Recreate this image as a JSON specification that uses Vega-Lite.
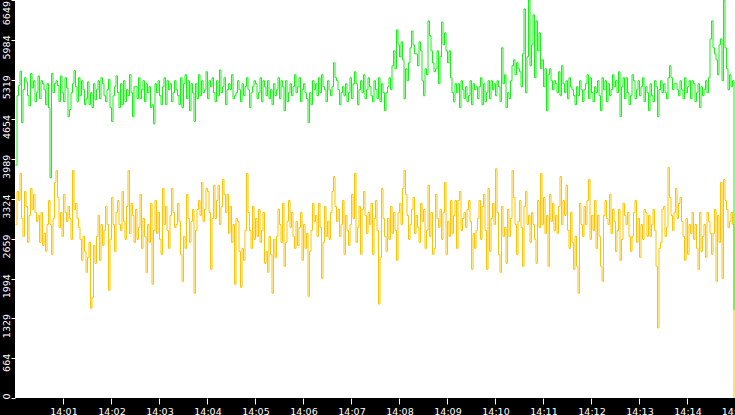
{
  "$schema": "https://vega.github.io/schema/vega-lite/v6.json",
  "width": 720,
  "height": 398,
  "autosize": {"type": "none"},
  "padding": {"left": 15, "top": 0, "right": 0, "bottom": 17},
  "background": "#000000",
  "view": {"fill": "#ffffff", "stroke": null},
  "data": {
    "values": [
      {"t":0,"g":3890,"y":2900},{"t":1,"g":5050,"y":3450},{"t":2,"g":5220,"y":3300},{"t":3,"g":5460,"y":3750},{"t":4,"g":4600,"y":3000},{"t":5,"g":5150,"y":2700},{"t":6,"g":5350,"y":3450},{"t":7,"g":5280,"y":3200},{"t":8,"g":5050,"y":2600},{"t":9,"g":4880,"y":3050},
      {"t":10,"g":5420,"y":3500},{"t":11,"g":5180,"y":3150},{"t":12,"g":5300,"y":3400},{"t":13,"g":4950,"y":3100},{"t":14,"g":5100,"y":2950},{"t":15,"g":5380,"y":3050},{"t":16,"g":5000,"y":2600},{"t":17,"g":5300,"y":3100},{"t":18,"g":5250,"y":2550},{"t":19,"g":5150,"y":2750},
      {"t":20,"g":4900,"y":2450},{"t":21,"g":5250,"y":2900},{"t":22,"g":4850,"y":3300},{"t":23,"g":3680,"y":2900},{"t":24,"g":5420,"y":2400},{"t":25,"g":5100,"y":3000},{"t":26,"g":5250,"y":3600},{"t":27,"g":5300,"y":3800},{"t":28,"g":5220,"y":3350},{"t":29,"g":4950,"y":2850},
      {"t":30,"g":5380,"y":3100},{"t":31,"g":5100,"y":2700},{"t":32,"g":4950,"y":3400},{"t":33,"g":5350,"y":3100},{"t":34,"g":5180,"y":2950},{"t":35,"g":4700,"y":3200},{"t":36,"g":4820,"y":3000},{"t":37,"g":5100,"y":2650},{"t":38,"g":5250,"y":3800},{"t":39,"g":5470,"y":3150},
      {"t":40,"g":5200,"y":3250},{"t":41,"g":4950,"y":3000},{"t":42,"g":5350,"y":2850},{"t":43,"g":5050,"y":2650},{"t":44,"g":5300,"y":2300},{"t":45,"g":5150,"y":2700},{"t":46,"g":4900,"y":2450},{"t":47,"g":5000,"y":2100},{"t":48,"g":5280,"y":2350},{"t":49,"g":4900,"y":2600},
      {"t":50,"g":5100,"y":1500},{"t":51,"g":4850,"y":1680},{"t":52,"g":5250,"y":2550},{"t":53,"g":4980,"y":2250},{"t":54,"g":5150,"y":2700},{"t":55,"g":5300,"y":3050},{"t":56,"g":5000,"y":2300},{"t":57,"g":5350,"y":2900},{"t":58,"g":5250,"y":2550},{"t":59,"g":5050,"y":2800},
      {"t":60,"g":4950,"y":3200},{"t":61,"g":5150,"y":2900},{"t":62,"g":5320,"y":1800},{"t":63,"g":4850,"y":2650},{"t":64,"g":4620,"y":3350},{"t":65,"g":5050,"y":2900},{"t":66,"g":5200,"y":2450},{"t":67,"g":5380,"y":3100},{"t":68,"g":5100,"y":3300},{"t":69,"g":4850,"y":2900},
      {"t":70,"g":5250,"y":2800},{"t":71,"g":4900,"y":3450},{"t":72,"g":5300,"y":2950},{"t":73,"g":4950,"y":2650},{"t":74,"g":5150,"y":3200},{"t":75,"g":5050,"y":3800},{"t":76,"g":5400,"y":2750},{"t":77,"g":5100,"y":3250},{"t":78,"g":4700,"y":3050},{"t":79,"g":5200,"y":2600},
      {"t":80,"g":5200,"y":3150},{"t":81,"g":5000,"y":2650},{"t":82,"g":5350,"y":2850},{"t":83,"g":5000,"y":3400},{"t":84,"g":5150,"y":2500},{"t":85,"g":5300,"y":3000},{"t":86,"g":4950,"y":2700},{"t":87,"g":5250,"y":2100},{"t":88,"g":5100,"y":2900},{"t":89,"g":5200,"y":2600},
      {"t":90,"g":4850,"y":3250},{"t":91,"g":4900,"y":1900},{"t":92,"g":4580,"y":2800},{"t":93,"g":5250,"y":3300},{"t":94,"g":5100,"y":2750},{"t":95,"g":5300,"y":3100},{"t":96,"g":5050,"y":2650},{"t":97,"g":4900,"y":2400},{"t":98,"g":5200,"y":3500},{"t":99,"g":5350,"y":2900},
      {"t":100,"g":4900,"y":3200},{"t":101,"g":5300,"y":2800},{"t":102,"g":5150,"y":2500},{"t":103,"g":5250,"y":3050},{"t":104,"g":4950,"y":3500},{"t":105,"g":5100,"y":3100},{"t":106,"g":5300,"y":2850},{"t":107,"g":5150,"y":2900},{"t":108,"g":5050,"y":3250},{"t":109,"g":4900,"y":2950},
      {"t":110,"g":5350,"y":2400},{"t":111,"g":4850,"y":1950},{"t":112,"g":5250,"y":2700},{"t":113,"g":5400,"y":2500},{"t":114,"g":5000,"y":3400},{"t":115,"g":5300,"y":3000},{"t":116,"g":4800,"y":2600},{"t":117,"g":5250,"y":2950},{"t":118,"g":5100,"y":3150},{"t":119,"g":4620,"y":1750},
      {"t":120,"g":5250,"y":2800},{"t":121,"g":5000,"y":3150},{"t":122,"g":5400,"y":3300},{"t":123,"g":5050,"y":3050},{"t":124,"g":5300,"y":3600},{"t":125,"g":5100,"y":2950},{"t":126,"g":5150,"y":3150},{"t":127,"g":5450,"y":3500},{"t":128,"g":5000,"y":3450},{"t":129,"g":5300,"y":3100},
      {"t":130,"g":5200,"y":2150},{"t":131,"g":5350,"y":3000},{"t":132,"g":5100,"y":3550},{"t":133,"g":4950,"y":3000},{"t":134,"g":5300,"y":3300},{"t":135,"g":5050,"y":3550},{"t":136,"g":5480,"y":2900},{"t":137,"g":5100,"y":3200},{"t":138,"g":5200,"y":3650},{"t":139,"g":5350,"y":3400},
      {"t":140,"g":4900,"y":3100},{"t":141,"g":5150,"y":3400},{"t":142,"g":5250,"y":2750},{"t":143,"g":5150,"y":3200},{"t":144,"g":5400,"y":2600},{"t":145,"g":5000,"y":2900},{"t":146,"g":5050,"y":1900},{"t":147,"g":5100,"y":3000},{"t":148,"g":5300,"y":2950},{"t":149,"g":5150,"y":2450},
      {"t":150,"g":4950,"y":1850},{"t":151,"g":5250,"y":2500},{"t":152,"g":5050,"y":2300},{"t":153,"g":5200,"y":2800},{"t":154,"g":5350,"y":3750},{"t":155,"g":5150,"y":3100},{"t":156,"g":4850,"y":2800},{"t":157,"g":5100,"y":2500},{"t":158,"g":5200,"y":3200},{"t":159,"g":5300,"y":2650},
      {"t":160,"g":5250,"y":3000},{"t":161,"g":5000,"y":2700},{"t":162,"g":5100,"y":3150},{"t":163,"g":5350,"y":2600},{"t":164,"g":4950,"y":2800},{"t":165,"g":5300,"y":3100},{"t":166,"g":5200,"y":2250},{"t":167,"g":5050,"y":2450},{"t":168,"g":5300,"y":2100},{"t":169,"g":5000,"y":2700},
      {"t":170,"g":5150,"y":2400},{"t":171,"g":4900,"y":1750},{"t":172,"g":5250,"y":2650},{"t":173,"g":5050,"y":2350},{"t":174,"g":5150,"y":2700},{"t":175,"g":5350,"y":3150},{"t":176,"g":5000,"y":2900},{"t":177,"g":5300,"y":2600},{"t":178,"g":5200,"y":3250},{"t":179,"g":4800,"y":2200},
      {"t":180,"g":5300,"y":2600},{"t":181,"g":4950,"y":2950},{"t":182,"g":5100,"y":3300},{"t":183,"g":5250,"y":2850},{"t":184,"g":5050,"y":3100},{"t":185,"g":5200,"y":2700},{"t":186,"g":5400,"y":2500},{"t":187,"g":5100,"y":2950},{"t":188,"g":5200,"y":2550},{"t":189,"g":5350,"y":2850},
      {"t":190,"g":4950,"y":3100},{"t":191,"g":5150,"y":2300},{"t":192,"g":5250,"y":2900},{"t":193,"g":5100,"y":2500},{"t":194,"g":5000,"y":2750},{"t":195,"g":4600,"y":1700},{"t":196,"g":5100,"y":2450},{"t":197,"g":4900,"y":2800},{"t":198,"g":5300,"y":3250},{"t":199,"g":5150,"y":2950},
      {"t":200,"g":5250,"y":3050},{"t":201,"g":5050,"y":2700},{"t":202,"g":5350,"y":3250},{"t":203,"g":5100,"y":2850},{"t":204,"g":5400,"y":2000},{"t":205,"g":5200,"y":2600},{"t":206,"g":5150,"y":3200},{"t":207,"g":4950,"y":2700},{"t":208,"g":5300,"y":2950},{"t":209,"g":5150,"y":2650},
      {"t":210,"g":5050,"y":3100},{"t":211,"g":5200,"y":3450},{"t":212,"g":5600,"y":3700},{"t":213,"g":5350,"y":3200},{"t":214,"g":5300,"y":2950},{"t":215,"g":5150,"y":3150},{"t":216,"g":4900,"y":2700},{"t":217,"g":5100,"y":2900},{"t":218,"g":5200,"y":3300},{"t":219,"g":5050,"y":2400},
      {"t":220,"g":5250,"y":3050},{"t":221,"g":4950,"y":2800},{"t":222,"g":5100,"y":2550},{"t":223,"g":5350,"y":2900},{"t":224,"g":5000,"y":3400},{"t":225,"g":5250,"y":3000},{"t":226,"g":5450,"y":3750},{"t":227,"g":5250,"y":2600},{"t":228,"g":4900,"y":2850},{"t":229,"g":5150,"y":3200},
      {"t":230,"g":5300,"y":2400},{"t":231,"g":5100,"y":3150},{"t":232,"g":5400,"y":3450},{"t":233,"g":5000,"y":3050},{"t":234,"g":5150,"y":2750},{"t":235,"g":5350,"y":3100},{"t":236,"g":5200,"y":2900},{"t":237,"g":5050,"y":3250},{"t":238,"g":4950,"y":2400},{"t":239,"g":5300,"y":3000},
      {"t":240,"g":5150,"y":3300},{"t":241,"g":5000,"y":2800},{"t":242,"g":5350,"y":1570},{"t":243,"g":4950,"y":2350},{"t":244,"g":5250,"y":3500},{"t":245,"g":5100,"y":3000},{"t":246,"g":4800,"y":2700},{"t":247,"g":5100,"y":2450},{"t":248,"g":5200,"y":3000},{"t":249,"g":5350,"y":2650},
      {"t":250,"g":5150,"y":3200},{"t":251,"g":5550,"y":2750},{"t":252,"g":5800,"y":3100},{"t":253,"g":5500,"y":2800},{"t":254,"g":6150,"y":2300},{"t":255,"g":5900,"y":3100},{"t":256,"g":5700,"y":3250},{"t":257,"g":5950,"y":2900},{"t":258,"g":5650,"y":3500},{"t":259,"g":5000,"y":3800},
      {"t":260,"g":5500,"y":3400},{"t":261,"g":5300,"y":3050},{"t":262,"g":5600,"y":2650},{"t":263,"g":5850,"y":2900},{"t":264,"g":6130,"y":3150},{"t":265,"g":5900,"y":3350},{"t":266,"g":5750,"y":2750},{"t":267,"g":5750,"y":3050},{"t":268,"g":5550,"y":2850},{"t":269,"g":5950,"y":2600},
      {"t":270,"g":5800,"y":3250},{"t":271,"g":5300,"y":2950},{"t":272,"g":5050,"y":3150},{"t":273,"g":5500,"y":2500},{"t":274,"g":5400,"y":2800},{"t":275,"g":6300,"y":3550},{"t":276,"g":6050,"y":2700},{"t":277,"g":5800,"y":3100},{"t":278,"g":5600,"y":2400},{"t":279,"g":5450,"y":2500},
      {"t":280,"g":5500,"y":3400},{"t":281,"g":5800,"y":3000},{"t":282,"g":5250,"y":2850},{"t":283,"g":5700,"y":3150},{"t":284,"g":6280,"y":2650},{"t":285,"g":5900,"y":3100},{"t":286,"g":6100,"y":3600},{"t":287,"g":5800,"y":2400},{"t":288,"g":5600,"y":2950},{"t":289,"g":5800,"y":2700},
      {"t":290,"g":5350,"y":3300},{"t":291,"g":5100,"y":2750},{"t":292,"g":4950,"y":3050},{"t":293,"g":5250,"y":3300},{"t":294,"g":5100,"y":2500},{"t":295,"g":5250,"y":3300},{"t":296,"g":4850,"y":3450},{"t":297,"g":5300,"y":2800},{"t":298,"g":5150,"y":3000},{"t":299,"g":5000,"y":3100},
      {"t":300,"g":5200,"y":2850},{"t":301,"g":4950,"y":3150},{"t":302,"g":5050,"y":3300},{"t":303,"g":5300,"y":2950},{"t":304,"g":4900,"y":2150},{"t":305,"g":5250,"y":2750},{"t":306,"g":5150,"y":2500},{"t":307,"g":5200,"y":2800},{"t":308,"g":5000,"y":3000},{"t":309,"g":5200,"y":3300},
      {"t":310,"g":5350,"y":2650},{"t":311,"g":4900,"y":3200},{"t":312,"g":5250,"y":3400},{"t":313,"g":4950,"y":2800},{"t":314,"g":5100,"y":2150},{"t":315,"g":5300,"y":3500},{"t":316,"g":5000,"y":2450},{"t":317,"g":5300,"y":3000},{"t":318,"g":5150,"y":3250},{"t":319,"g":5250,"y":2900},
      {"t":320,"g":5050,"y":3830},{"t":321,"g":5300,"y":3100},{"t":322,"g":5200,"y":2400},{"t":323,"g":4950,"y":2100},{"t":324,"g":5850,"y":3200},{"t":325,"g":5250,"y":2700},{"t":326,"g":5400,"y":2850},{"t":327,"g":4850,"y":2250},{"t":328,"g":5100,"y":3150},{"t":329,"g":5000,"y":2700},
      {"t":330,"g":5300,"y":3000},{"t":331,"g":5550,"y":3800},{"t":332,"g":5650,"y":3350},{"t":333,"g":5400,"y":2900},{"t":334,"g":5600,"y":2400},{"t":335,"g":5500,"y":2950},{"t":336,"g":5450,"y":3300},{"t":337,"g":5200,"y":2850},{"t":338,"g":5750,"y":2200},{"t":339,"g":6500,"y":3200},
      {"t":340,"g":5100,"y":3450},{"t":341,"g":5700,"y":2900},{"t":342,"g":6649,"y":3050},{"t":343,"g":5550,"y":2600},{"t":344,"g":5900,"y":3100},{"t":345,"g":6400,"y":2900},{"t":346,"g":5350,"y":2650},{"t":347,"g":6300,"y":2250},{"t":348,"g":5800,"y":3300},{"t":349,"g":6100,"y":2850},
      {"t":350,"g":5500,"y":3750},{"t":351,"g":5650,"y":2900},{"t":352,"g":5200,"y":3350},{"t":353,"g":5500,"y":2750},{"t":354,"g":4800,"y":3050},{"t":355,"g":5400,"y":2200},{"t":356,"g":5500,"y":3400},{"t":357,"g":5300,"y":2950},{"t":358,"g":5150,"y":3250},{"t":359,"g":5300,"y":2800},
      {"t":360,"g":5250,"y":3050},{"t":361,"g":5100,"y":2750},{"t":362,"g":5450,"y":3200},{"t":363,"g":5050,"y":3700},{"t":364,"g":5550,"y":2900},{"t":365,"g":5250,"y":3300},{"t":366,"g":5100,"y":3050},{"t":367,"g":5300,"y":3550},{"t":368,"g":5000,"y":2800},{"t":369,"g":5350,"y":2500},
      {"t":370,"g":5200,"y":3100},{"t":371,"g":5150,"y":2600},{"t":372,"g":5050,"y":2150},{"t":373,"g":4900,"y":2700},{"t":374,"g":5200,"y":2200},{"t":375,"g":5050,"y":1750},{"t":376,"g":5300,"y":3250},{"t":377,"g":5150,"y":2900},{"t":378,"g":4950,"y":2700},{"t":379,"g":5150,"y":3200},
      {"t":380,"g":5250,"y":2900},{"t":381,"g":5400,"y":3300},{"t":382,"g":5000,"y":3650},{"t":383,"g":5350,"y":2650},{"t":384,"g":5100,"y":3050},{"t":385,"g":4950,"y":2800},{"t":386,"g":5200,"y":3300},{"t":387,"g":5100,"y":2500},{"t":388,"g":5300,"y":3050},{"t":389,"g":5050,"y":2700},
      {"t":390,"g":4800,"y":2200},{"t":391,"g":5350,"y":1950},{"t":392,"g":5150,"y":3050},{"t":393,"g":5300,"y":3300},{"t":394,"g":4950,"y":3000},{"t":395,"g":5250,"y":2900},{"t":396,"g":5050,"y":3400},{"t":397,"g":5150,"y":2750},{"t":398,"g":5400,"y":3150},{"t":399,"g":5200,"y":2950},
      {"t":400,"g":5300,"y":2450},{"t":401,"g":5100,"y":2800},{"t":402,"g":5450,"y":3150},{"t":403,"g":4700,"y":2300},{"t":404,"g":5200,"y":2650},{"t":405,"g":5350,"y":3250},{"t":406,"g":5000,"y":3050},{"t":407,"g":5350,"y":2900},{"t":408,"g":5100,"y":3100},{"t":409,"g":4900,"y":2700},
      {"t":410,"g":5050,"y":2450},{"t":411,"g":5400,"y":2700},{"t":412,"g":5300,"y":3100},{"t":413,"g":5000,"y":3300},{"t":414,"g":5150,"y":2600},{"t":415,"g":5300,"y":3000},{"t":416,"g":5050,"y":2350},{"t":417,"g":5200,"y":2900},{"t":418,"g":5350,"y":2650},{"t":419,"g":4950,"y":3150},
      {"t":420,"g":5200,"y":3100},{"t":421,"g":5100,"y":2700},{"t":422,"g":4800,"y":3050},{"t":423,"g":5250,"y":2700},{"t":424,"g":5050,"y":2900},{"t":425,"g":4950,"y":3150},{"t":426,"g":5300,"y":2800},{"t":427,"g":5200,"y":2200},{"t":428,"g":4700,"y":1170},{"t":429,"g":5150,"y":2500},
      {"t":430,"g":5300,"y":2600},{"t":431,"g":5100,"y":3150},{"t":432,"g":5250,"y":3200},{"t":433,"g":5100,"y":2700},{"t":434,"g":5000,"y":2850},{"t":435,"g":5350,"y":3850},{"t":436,"g":5550,"y":3350},{"t":437,"g":5350,"y":3050},{"t":438,"g":5150,"y":2800},{"t":439,"g":5250,"y":3100},
      {"t":440,"g":5250,"y":3500},{"t":441,"g":5150,"y":3000},{"t":442,"g":5050,"y":3250},{"t":443,"g":5300,"y":3350},{"t":444,"g":5150,"y":2950},{"t":445,"g":5000,"y":2700},{"t":446,"g":5350,"y":2300},{"t":447,"g":5100,"y":3000},{"t":448,"g":5200,"y":2400},{"t":449,"g":5300,"y":2900},
      {"t":450,"g":5000,"y":2750},{"t":451,"g":5300,"y":3100},{"t":452,"g":5250,"y":2650},{"t":453,"g":4950,"y":2900},{"t":454,"g":5100,"y":2500},{"t":455,"g":5250,"y":2150},{"t":456,"g":4850,"y":3100},{"t":457,"g":5200,"y":2450},{"t":458,"g":5050,"y":2700},{"t":459,"g":5150,"y":2900},
      {"t":460,"g":5300,"y":2350},{"t":461,"g":5100,"y":3100},{"t":462,"g":5350,"y":2950},{"t":463,"g":6000,"y":2750},{"t":464,"g":6300,"y":2400},{"t":465,"g":5850,"y":2750},{"t":466,"g":5750,"y":3150},{"t":467,"g":5650,"y":1950},{"t":468,"g":5400,"y":3050},{"t":469,"g":5900,"y":2600},
      {"t":470,"g":6000,"y":3600},{"t":471,"g":5300,"y":2000},{"t":472,"g":6649,"y":3650},{"t":473,"g":5850,"y":3300},{"t":474,"g":5500,"y":3150},{"t":475,"g":5150,"y":2850},{"t":476,"g":5400,"y":2950},{"t":477,"g":5200,"y":3100},{"t":478,"g":5300,"y":2900},{"t":479,"g":1470,"y":0}
    ]
  },
  "encoding": {
    "x": {
      "field": "t",
      "type": "quantitative",
      "scale": {"domain": [-0.3333, 479.6667], "nice": false, "zero": false},
      "axis": {
        "values": [32, 64, 96, 128, 160, 192, 224, 256, 288, 320, 352, 384, 416, 448, 479.6],
        "labelExpr": "datum.value < 320 ? '14:0' + round(datum.value / 32) : '14:' + round(datum.value / 32)",
        "title": null,
        "domain": false,
        "grid": false,
        "tickColor": "#ffffff",
        "tickSize": 6,
        "tickWidth": 1,
        "labelColor": "#ffffff",
        "labelFont": "DejaVu Sans",
        "labelFontSize": 9.5,
        "labelPadding": 2,
        "labelBaseline": "top",
        "labelFlush": false,
        "labelOverlap": false
      }
    },
    "y": {
      "field": "y",
      "type": "quantitative",
      "scale": {"domain": [0, 6649], "nice": false, "zero": true},
      "axis": {
        "values": [0, 664, 1329, 1994, 2659, 3324, 3989, 4654, 5319, 5984, 6649],
        "format": "d",
        "title": null,
        "domain": false,
        "grid": false,
        "tickColor": "#ffffff",
        "tickSize": 4,
        "tickWidth": 1,
        "labelColor": "#ffffff",
        "labelFont": "DejaVu Sans",
        "labelFontSize": 9.5,
        "labelAngle": 270,
        "labelAlign": "right",
        "labelBaseline": "alphabetic",
        "labelOffset": {"condition": {"test": "datum.value >= 6649", "value": 0.5}, "value": -5},
        "labelPadding": 1.5,
        "labelFlush": false,
        "labelOverlap": false
      }
    }
  },
  "layer": [
    {
      "mark": {"type": "line", "interpolate": "step-after", "color": "#ffc400", "strokeWidth": 1}
    },
    {
      "mark": {"type": "line", "interpolate": "step-after", "color": "#18f018", "strokeWidth": 1},
      "encoding": {
        "y": {"field": "g", "type": "quantitative"}
      }
    }
  ]
}
